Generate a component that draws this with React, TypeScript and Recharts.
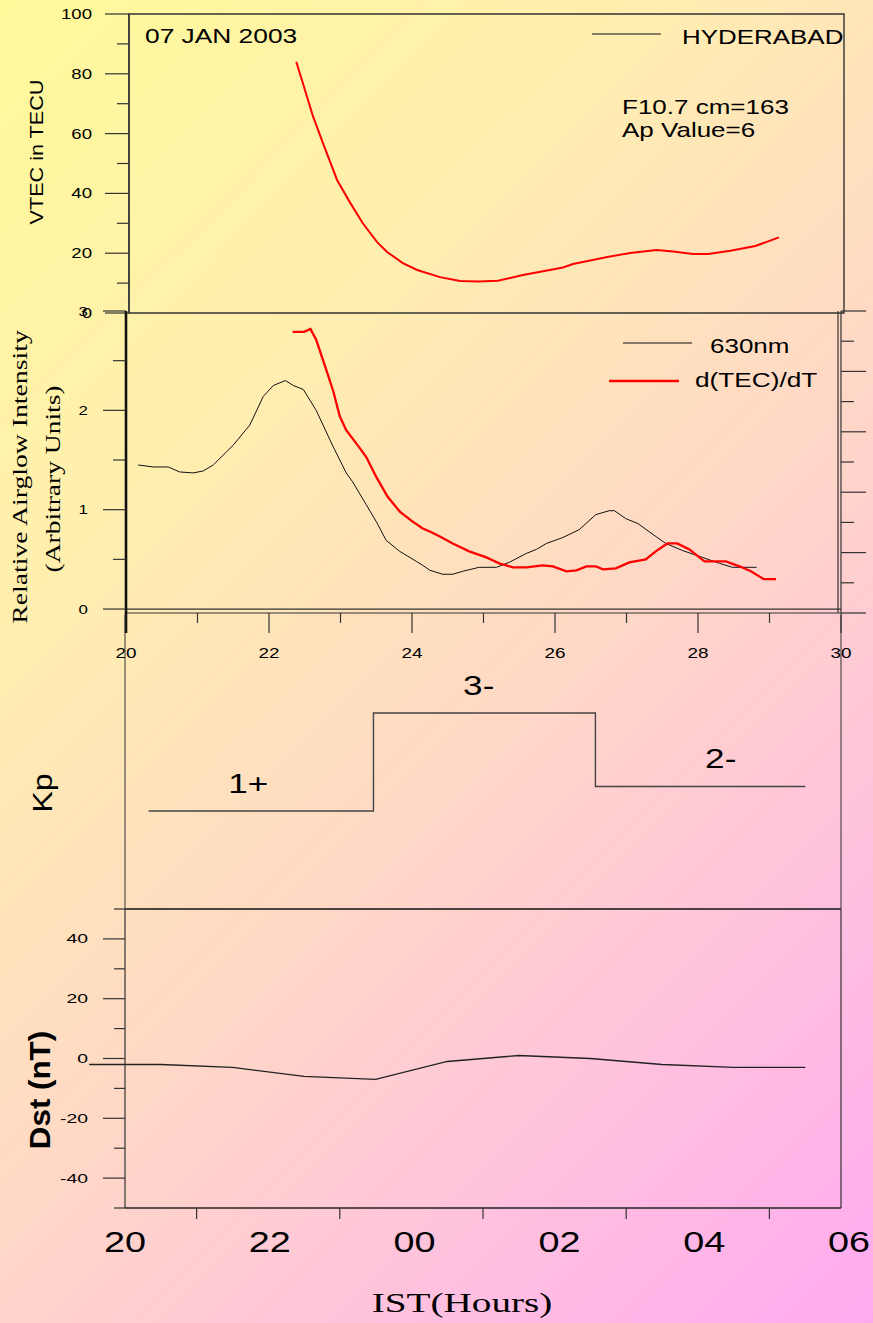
import React from 'react';
import {
  LineChart,
  Line,
  XAxis,
  YAxis,
  ReferenceArea,
  ReferenceLine,
  ReferenceDot,
} from 'recharts';

const SANS = '"Liberation Sans", Arial, sans-serif';
const SERIF = '"Liberation Serif", "Times New Roman", serif';
const AXIS = '#333';

// Time axis: IST hours, after midnight written as 24+
const hourTicks = [20, 21, 22, 23, 24, 25, 26, 27, 28, 29, 30];
const istTickHours = [20, 22, 24, 26, 28, 30];
const istTickLabels = ['20', '22', '00', '02', '04', '06'];

// VTEC over Hyderabad (TECU)
const vtecHours = [
  22.34, 22.43, 22.57, 22.71, 22.91, 23.09, 23.27, 23.47, 23.61, 23.83, 24.03, 24.35,
  24.63, 24.88, 25.16, 25.51, 26.07, 26.21, 26.69, 27.01, 27.38, 27.61, 27.89, 28.1,
  28.41, 28.76, 28.92, 29.09,
];
const vtecValues = [
  84, 77, 66, 57, 44.5, 37, 30, 23.7, 20.4, 16.7, 14.4, 12.0,
  10.7, 10.5, 10.8, 12.7, 15.2, 16.4, 18.7, 20.1, 21.1, 20.6, 19.7, 19.7,
  20.8, 22.4, 23.8, 25.3,
];
const vtecTicks = [0, 10, 20, 30, 40, 50, 60, 70, 80, 90, 100];

// 630 nm relative airglow intensity
const airglowHours = [
  20.17, 20.38, 20.59, 20.75, 20.94, 21.08, 21.22, 21.5, 21.73, 21.92, 22.06, 22.23,
  22.34, 22.48, 22.66, 22.9, 23.08, 23.17, 23.36, 23.5, 23.64, 23.83, 24.06, 24.15,
  24.25, 24.43, 24.57, 24.71, 24.94, 25.18, 25.36, 25.6, 25.74, 25.88, 26.11, 26.34,
  26.57, 26.76, 26.83, 26.99, 27.16, 27.41, 27.55, 27.78, 28.06, 28.3, 28.48, 28.82,
];
const airglowValues = [
  1.45, 1.43, 1.43, 1.38, 1.37, 1.39, 1.45, 1.65, 1.85, 2.14, 2.25, 2.3,
  2.25, 2.21, 2.0, 1.63, 1.37, 1.28, 1.05, 0.88, 0.69, 0.58, 0.48, 0.44,
  0.39, 0.35, 0.35, 0.38, 0.42, 0.42, 0.47, 0.56, 0.6, 0.66, 0.72, 0.8,
  0.95, 0.99, 0.99, 0.91, 0.86, 0.73, 0.66, 0.59, 0.52, 0.46, 0.42, 0.42,
];

// d(TEC)/dT, scaled to the airglow axis
const rateHours = [
  22.33, 22.49, 22.58, 22.66, 22.8, 22.9, 22.99, 23.08, 23.27, 23.36, 23.5, 23.66,
  23.83, 23.99, 24.15, 24.25, 24.39, 24.57, 24.8, 25.04, 25.22, 25.41, 25.6, 25.83,
  25.97, 26.16, 26.3, 26.44, 26.57, 26.67, 26.85, 27.04, 27.27, 27.41, 27.57, 27.71,
  27.88, 28.09, 28.25, 28.39, 28.58, 28.74, 28.92, 29.09,
];
const rateValues = [
  2.79, 2.79, 2.82, 2.71, 2.41, 2.19, 1.94, 1.8, 1.62, 1.53, 1.33, 1.13,
  0.98, 0.89, 0.81, 0.78, 0.73, 0.66, 0.58, 0.52, 0.46, 0.42, 0.42, 0.44,
  0.43, 0.38, 0.39, 0.43, 0.43, 0.4, 0.41, 0.47, 0.5, 0.58, 0.66, 0.66,
  0.6, 0.48, 0.48, 0.48, 0.43, 0.38, 0.3, 0.3,
];
const airglowTicks = [0, 0.5, 1, 1.5, 2, 2.5, 3];
const rateAxisTicks = [0, 1, 2, 3, 4, 5, 6, 7, 8, 9, 10];

// Kp index (3-hour values)
const kpHours = [20.33, 23.47, 26.57, 29.5];
const kpValues = [1.333, 2.667, 1.667, 1.667];
const kpLabelHours = [21.72, 24.94, 28.32];
const kpLabelValues = [1.333, 2.667, 1.667];
const kpLabelTexts = ['1+', '3-', '2-'];

// Hourly Dst (nT)
const dstHours = [19.5, 20.5, 21.5, 22.5, 23.5, 24.5, 25.5, 26.5, 27.5, 28.5, 29.5];
const dstValues = [-2, -2, -3, -6, -7, -1, 1, 0, -2, -3, -3];
const dstTicks = [-50, -40, -30, -20, -10, 0, 10, 20, 30, 40, 50];

const toPoints = (hs: number[], vs: number[]) => hs.map((h, i) => ({ h, v: vs[i] }));
const vtecData = toPoints(vtecHours, vtecValues);
const airglowData = toPoints(airglowHours, airglowValues);
const rateData = toPoints(rateHours, rateValues);
const kpData = toPoints(kpHours, kpValues);
const dstData = toPoints(dstHours, dstValues);

type WTProps = {
  x: number;
  y: number;
  text: string;
  size: number;
  sx?: number;
  anchor?: 'start' | 'middle' | 'end';
  family?: string;
  rotate?: number;
  weight?: string;
};

// Text widened along its own direction
function WideText({ x, y, text, size, sx = 1.3, anchor = 'start', family = SANS, rotate = 0, weight = 'normal' }: WTProps) {
  return (
    <text
      transform={`translate(${x} ${y}) rotate(${rotate}) scale(${sx} 1)`}
      textAnchor={anchor}
      fontSize={size}
      fontFamily={family}
      fontWeight={weight}
      fill="#000"
    >
      {text}
    </text>
  );
}

type YTickOpts = {
  isMajor: (v: number) => boolean;
  majorLen: number;
  minorLen: number;
  gap: number;
  size: number;
  sx: number;
  dy: number;
};

const makeLeftTick = (o: YTickOpts) => (props: any) => {
  const { x, y, payload } = props;
  const v = payload.value as number;
  const major = o.isMajor(v);
  return (
    <g>
      <line x1={x - (major ? o.majorLen : o.minorLen)} y1={y} x2={x} y2={y} stroke={AXIS} strokeWidth={1.2} />
      {major && <WideText x={x - o.gap} y={y + o.dy} text={String(v)} size={o.size} sx={o.sx} anchor="end" />}
    </g>
  );
};

const vtecTick = makeLeftTick({
  isMajor: (v) => v % 20 === 0,
  majorLen: 24,
  minorLen: 12,
  gap: 37,
  size: 14,
  sx: 1.33,
  dy: 5,
});

const airglowTick = makeLeftTick({
  isMajor: (v) => Number.isInteger(v),
  majorLen: 23,
  minorLen: 13,
  gap: 38,
  size: 13,
  sx: 1.3,
  dy: 4.5,
});

const dstTick = makeLeftTick({
  isMajor: (v) => v % 20 === 0,
  majorLen: 22,
  minorLen: 11,
  gap: 37,
  size: 12.5,
  sx: 1.55,
  dy: 4.5,
});

const rateTick = (props: any) => {
  const { x, y, payload } = props;
  const major = (payload.value as number) % 2 === 0;
  return <line x1={x} y1={y} x2={x + (major ? 25 : 13)} y2={y} stroke={AXIS} strokeWidth={1.2} />;
};

const airglowHourTick = (props: any) => {
  const { x, y, payload, index } = props;
  const v = payload.value as number;
  const major = v % 2 === 0;
  return (
    <g>
      <line x1={x} y1={y} x2={x} y2={y + (major ? 20 : 10)} stroke={index === 0 ? '#111' : AXIS} strokeWidth={index === 0 ? 2.6 : 1.2} />
      {major && <WideText x={x} y={y + 45} text={String(v)} size={14} sx={1.35} anchor="middle" />}
    </g>
  );
};

const istHourTick = (props: any) => {
  const { x, y, payload } = props;
  const v = payload.value as number;
  const idx = istTickHours.indexOf(v);
  if (idx < 0) {
    return <line x1={x} y1={y} x2={x} y2={y + 11} stroke={AXIS} strokeWidth={1.2} />;
  }
  return (
    <WideText x={x + (v - 20) * 0.8} y={y + 44} text={istTickLabels[idx]} size={30} sx={1.26} anchor="middle" />
  );
};

const kpLabelShape = (text: string) => (props: any) => (
  <WideText x={props.cx} y={props.cy - 18} text={text} size={27} sx={1.3} anchor="middle" />
);

const noAnim = { isAnimationActive: false } as const;

export default function App() {
  return (
    <div
      style={{
        position: 'absolute',
        left: 0,
        top: 0,
        width: 873,
        height: 1323,
        overflow: 'hidden',
        background: 'linear-gradient(135deg, #fffa9a 0%, #ffeeb0 30%, #ffd6c8 58%, #ffbfe0 80%, #ffaaf0 100%)',
      }}
    >
      <style>{'.dst-panel .recharts-line, .dst-panel .recharts-line * { clip-path: none !important; }'}</style>

      {/* VTEC panel */}
      <div style={{ position: 'absolute', left: 0, top: 0 }}>
        <LineChart width={873} height={330} margin={{ top: 14, right: 29, bottom: 17, left: 69 }}>
          <XAxis xAxisId="t" type="number" dataKey="h" domain={[20, 30]} allowDataOverflow hide />
          <YAxis
            yAxisId="v"
            type="number"
            domain={[0, 100]}
            ticks={vtecTicks}
            interval={0}
            allowDataOverflow
            width={60}
            tickSize={0}
            tickMargin={0}
            tickLine={false}
            axisLine={{ stroke: AXIS, strokeWidth: 1.4 }}
            tick={vtecTick}
          />
          <ReferenceArea xAxisId="t" yAxisId="v" x1={20} x2={30} y1={0} y2={100} fill="none" stroke={AXIS} strokeWidth={1.4} />
          <Line xAxisId="t" yAxisId="v" data={vtecData} dataKey="v" stroke="#ff0000" strokeWidth={2} dot={false} type="linear" {...noAnim} />
        </LineChart>
      </div>

      {/* Airglow / d(TEC)/dT panel */}
      <div style={{ position: 'absolute', left: 0, top: 290 }}>
        <LineChart width={873} height={390} margin={{ top: 21, right: 2, bottom: 17, left: 66 }}>
          <XAxis
            xAxisId="t"
            type="number"
            dataKey="h"
            domain={[20, 30]}
            allowDataOverflow
            ticks={hourTicks}
            interval={0}
            height={50}
            tickSize={0}
            tickMargin={0}
            tickLine={false}
            axisLine={{ stroke: AXIS, strokeWidth: 1.2 }}
            tick={airglowHourTick}
          />
          <YAxis
            yAxisId="i"
            type="number"
            domain={[-0.04, 3]}
            ticks={airglowTicks}
            interval={0}
            allowDataOverflow
            width={60}
            tickSize={0}
            tickMargin={0}
            tickLine={false}
            axisLine={{ stroke: '#111', strokeWidth: 2.6 }}
            tick={airglowTick}
          />
          <YAxis
            yAxisId="r"
            orientation="right"
            type="number"
            domain={[0, 10]}
            ticks={rateAxisTicks}
            interval={0}
            allowDataOverflow
            width={30}
            tickSize={0}
            tickMargin={0}
            tickLine={false}
            axisLine={{ stroke: AXIS, strokeWidth: 1.2 }}
            tick={rateTick}
          />
          <ReferenceLine xAxisId="t" yAxisId="i" y={0} stroke={AXIS} strokeWidth={1.2} />
          <ReferenceLine
            xAxisId="t"
            yAxisId="i"
            x={30}
            stroke={AXIS}
            shape={(p: any) => <line x1={p.x1 - 3} y1={p.y1} x2={p.x2 - 3} y2={p.y2} stroke={AXIS} strokeWidth={1.2} />}
          />
          <Line xAxisId="t" yAxisId="i" data={airglowData} dataKey="v" stroke="#111" strokeWidth={1} dot={false} type="linear" {...noAnim} />
          <Line xAxisId="t" yAxisId="i" data={rateData} dataKey="v" stroke="#ff0000" strokeWidth={2.3} dot={false} type="linear" {...noAnim} />
        </LineChart>
      </div>

      {/* Kp panel */}
      <div style={{ position: 'absolute', left: 0, top: 600 }}>
        <LineChart width={873} height={320} margin={{ top: 15, right: 31, bottom: 10, left: 65 }}>
          <XAxis
            xAxisId="t"
            type="number"
            dataKey="h"
            domain={[20, 30]}
            allowDataOverflow
            height={1}
            tick={false}
            tickLine={false}
            axisLine={{ stroke: '#111', strokeWidth: 1.4 }}
          />
          <YAxis yAxisId="k" type="number" domain={[0, 4]} allowDataOverflow width={60} tick={false} tickLine={false} axisLine={{ stroke: AXIS, strokeWidth: 1 }} />
          <YAxis yAxisId="f" orientation="right" type="number" domain={[0, 4]} allowDataOverflow width={1} tick={false} tickLine={false} axisLine={{ stroke: AXIS, strokeWidth: 1 }} />
          <Line xAxisId="t" yAxisId="k" data={kpData} dataKey="v" stroke="#444" strokeWidth={1.4} dot={false} type="stepAfter" {...noAnim} />
          {kpLabelTexts.map((t, i) => (
            <ReferenceDot
              key={t}
              xAxisId="t"
              yAxisId="k"
              x={kpLabelHours[i]}
              y={kpLabelValues[i]}
              r={2}
              shape={kpLabelShape(t)}
            />
          ))}
        </LineChart>
      </div>

      {/* Dst panel */}
      <div className="dst-panel" style={{ position: 'absolute', left: 0, top: 890 }}>
        <LineChart width={873} height={433} margin={{ top: 19, right: 31, bottom: 55, left: 65 }}>
          <XAxis
            xAxisId="t"
            type="number"
            dataKey="h"
            domain={[20, 30]}
            allowDataOverflow
            ticks={hourTicks}
            interval={0}
            height={60}
            tickSize={0}
            tickMargin={0}
            tickLine={false}
            axisLine={{ stroke: '#222', strokeWidth: 1.3 }}
            tick={istHourTick}
          />
          <YAxis
            yAxisId="d"
            type="number"
            domain={[-50, 50]}
            ticks={dstTicks}
            interval={0}
            allowDataOverflow
            width={60}
            tickSize={0}
            tickMargin={0}
            tickLine={false}
            axisLine={{ stroke: AXIS, strokeWidth: 1.2 }}
            tick={dstTick}
          />
          <YAxis yAxisId="f" orientation="right" type="number" domain={[-50, 50]} allowDataOverflow width={1} tick={false} tickLine={false} axisLine={{ stroke: AXIS, strokeWidth: 1.2 }} />
          <Line xAxisId="t" yAxisId="d" data={dstData} dataKey="v" stroke="#222" strokeWidth={1.3} dot={false} type="linear" {...noAnim} />
        </LineChart>
      </div>

      {/* Titles, legends and axis captions */}
      <svg width={873} height={1323} style={{ position: 'absolute', left: 0, top: 0, pointerEvents: 'none' }}>
        <WideText x={145} y={42.5} text="07 JAN 2003" size={19.5} sx={1.35} />
        <line x1={592} y1={34} x2={661} y2={34} stroke="#111" strokeWidth={1} />
        <WideText x={682} y={44} text="HYDERABAD" size={19.5} sx={1.33} />
        <WideText x={622} y={114} text="F10.7 cm=163" size={20} sx={1.3} />
        <WideText x={622} y={137} text="Ap Value=6" size={20} sx={1.3} />
        <WideText x={43} y={152} text="VTEC in TECU" size={18} sx={1.2} rotate={-90} anchor="middle" />

        <line x1={623} y1={343} x2={692} y2={343} stroke="#111" strokeWidth={1} />
        <WideText x={710} y={352.5} text="630nm" size={20} sx={1.3} />
        <line x1={609} y1={381} x2={679} y2={381} stroke="#ff0000" strokeWidth={2.3} />
        <WideText x={695} y={387} text="d(TEC)/dT" size={20} sx={1.31} />
        <WideText x={27} y={477} text="Relative Airglow Intensity" size={22} sx={1.26} rotate={-90} anchor="middle" family={SERIF} />
        <WideText x={60} y={479} text="(Arbitrary Units)" size={22} sx={1.25} rotate={-90} anchor="middle" family={SERIF} />

        <WideText x={52} y={793} text="Kp" size={27} sx={1.18} rotate={-90} anchor="middle" />
        <WideText x={50} y={1090} text="Dst (nT)" size={29} sx={1.08} rotate={-90} anchor="middle" weight="bold" />
        <WideText x={462} y={1312} text="IST(Hours)" size={28} sx={1.4} anchor="middle" family={SERIF} />
      </svg>
    </div>
  );
}
